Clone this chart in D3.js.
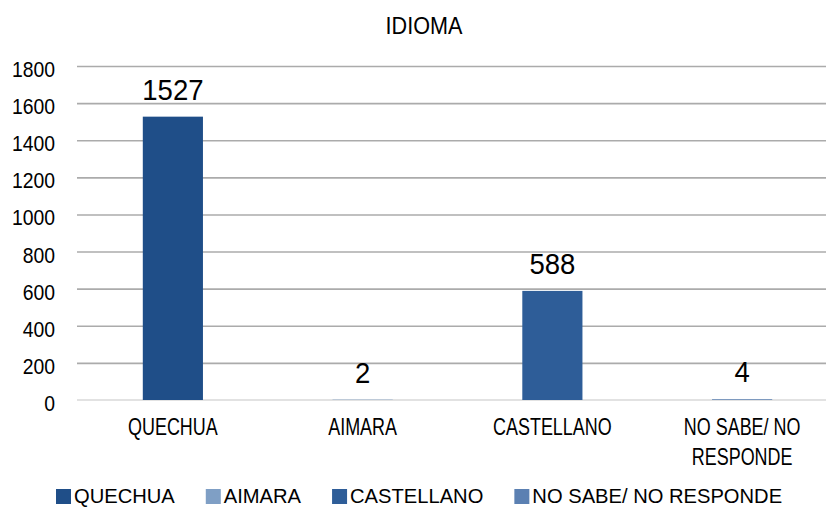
<!DOCTYPE html>
<html><head><meta charset="utf-8">
<script src="https://cdn.jsdelivr.net/npm/d3@7"></script>
<style>body{margin:0;background:#fff}svg{display:block}text{font-family:"Liberation Sans",Arial,sans-serif;fill:#000}</style>
</head><body><svg id="c" width="826" height="508"></svg>
<script>
const title = "IDIOMA";
const categories = ["QUECHUA", "AIMARA", "CASTELLANO", "NO SABE/ NO RESPONDE"];
const categoryLines = [["QUECHUA"], ["AIMARA"], ["CASTELLANO"], ["NO SABE/ NO", "RESPONDE"]];
const values = [1527, 2, 588, 4];
const colors = ["#1F4E88", "#7F9FC5", "#2E5D98", "#5B80B2"];
const yTicks = [0, 200, 400, 600, 800, 1000, 1200, 1400, 1600, 1800];

const svg = d3.select("#c");
const W = 826;
const x = d3.scaleBand().domain(categories).range([78, 837]);
const y = d3.scaleLinear().domain([0, 1800]).range([400, 66]);
const barW = x.step() * 0.317;

function stext(g, str, tx, ty, size, sx, anchor) {
  return g.append("text").attr("transform", `translate(${tx},${ty}) scale(${sx},1)`)
    .attr("text-anchor", anchor || "middle").style("font-size", size + "px").text(str);
}

// gridlines
const grid = svg.append("g").attr("transform", "translate(77,0)")
  .call(d3.axisLeft(y).tickValues(yTicks.filter(t => t > 0)).tickSize(-(W - 77)).tickFormat(""));
grid.select(".domain").remove();
grid.selectAll("line").attr("stroke", "#ABABAB").attr("stroke-width", 1.6);
svg.append("line").attr("x1", 77).attr("x2", W).attr("y1", y(0)).attr("y2", y(0))
  .attr("stroke", "#D9D9D9").attr("stroke-width", 1.6);

// y axis labels
const ax = svg.append("g").attr("transform", "translate(55,0)")
  .call(d3.axisLeft(y).tickValues(yTicks).tickSize(0).tickPadding(0).tickFormat(d3.format("d")));
ax.select(".domain").remove();
ax.selectAll("text").attr("x", null).attr("dy", null)
  .attr("transform", "translate(0,10.5) scale(0.88,1)")
  .style("font-size", "22px").style("font-family", '"Liberation Sans",Arial,sans-serif').attr("fill", "#000");

// bars
svg.selectAll("rect.bar").data(values).enter().append("rect").attr("class", "bar")
  .attr("x", (d, i) => x(categories[i]) + x.bandwidth() / 2 - barW / 2)
  .attr("y", d => y(d)).attr("width", barW).attr("height", d => y(0) - y(d))
  .attr("fill", (d, i) => colors[i]);

// data labels
values.forEach((v, i) => {
  stext(svg, String(v), x(categories[i]) + x.bandwidth() / 2, y(v) - 17, 29, 0.95);
});

// category labels
categoryLines.forEach((lines, i) => {
  lines.forEach((ln, j) => stext(svg, ln, x(categories[i]) + x.bandwidth() / 2, 435 + j * 30, 23, 0.78));
});

// title
stext(svg, title, 424, 34, 24, 0.9);

// legend
let lx = 56;
categories.forEach((c, i) => {
  svg.append("rect").attr("x", lx).attr("y", 489).attr("width", 15).attr("height", 15).attr("fill", colors[i]);
  const t = stext(svg, c, lx + 18, 503, 21, 0.96, "start");
  const w = t.node().getComputedTextLength() * 0.96;
  lx += 18 + w + 31;
});
</script></body></html>
